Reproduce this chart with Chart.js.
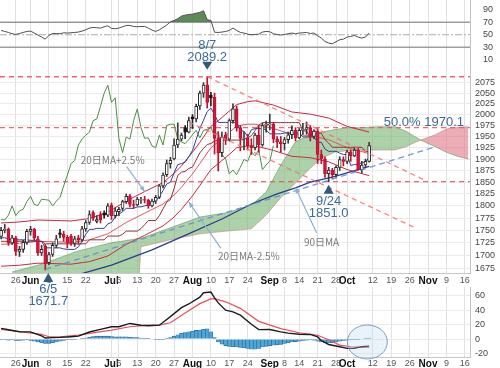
<!DOCTYPE html>
<html>
<head>
<meta charset="utf-8">
<script src="https://cdn.jsdelivr.net/npm/chart.js@4.4.1/dist/chart.umd.min.js"></script>
<style>
  body { margin: 0; background: #fff; }
  #wrap { position: relative; width: 500px; height: 368px; overflow: hidden; }
  #wrap canvas { position: absolute; left: 0; top: 0; }
</style>
</head>
<body>
<div id="wrap">
  <canvas id="rsiChart" width="500" height="368"></canvas>
  <canvas id="macdChart" width="500" height="368"></canvas>
  <canvas id="mainChart" width="500" height="368"></canvas>
</div>
<script>
// ===================================
// AXIS LABELS (x = trading-day index, 0 = May 19)
// ===================================
const xTickIdx  = [4, 8, 13, 18, 23, 30, 32, 37, 42, 47, 52, 57, 62, 67, 73, 77, 81, 86, 91, 94, 101, 106, 111, 116, 121, 126];
const xTickText = ['26', 'Jun', '8', '15', '22', 'Jul', '6', '13', '20', '27', 'Aug', '10', '17', '24', 'Sep', '8', '14', '21', '28', 'Oct', '12', '19', '26', 'Nov', '9', '16'];
const monthNames = ['Jun', 'Jul', 'Aug', 'Sep', 'Oct', 'Nov'];
const priceTicks = [1675, 1700, 1725, 1750, 1775, 1800, 1825, 1850, 1875, 1900, 1925, 1950, 1975, 2000, 2025, 2050, 2075];
const rsiTicks = [10, 30, 50, 70, 90];
const rsiLevels = [70, 50, 30];
const macdTicks = [-20, 0, 20, 40, 60];

// ===================================
// DAILY PRICES
// ===================================
const opens = [
  1738, 1750, 1752, 1725, 1735, 1708, 1712, 1726, 1748, 1752,
  1733, 1705, 1718, 1686, 1702, 1720, 1745, 1742, 1736, 1738,
  1724, 1735, 1731, 1753, 1766, 1786, 1768, 1782, 1785, 1781,
  1802, 1780, 1788, 1795, 1809, 1820, 1803, 1802, 1812, 1813,
  1812, 1800, 1810, 1818, 1842, 1866, 1890, 1900, 1931, 1944,
  1970, 1960, 1995, 1990, 2020, 2050, 2070, 2045, 2040, 1946,
  1914, 1954, 1944, 1986, 2013, 1970, 1946, 1947, 1929, 1925,
  1953, 1931, 1975, 1976, 1978, 1944, 1938, 1934, 1943, 1954,
  1964, 1947, 1964, 1966, 1970, 1950, 1962, 1910, 1900, 1868,
  1876, 1866, 1882, 1899, 1895, 1916, 1907, 1920, 1877, 1887,
  1895
];
const highs = [
  1756, 1762, 1755, 1740, 1738, 1718, 1730, 1752, 1758, 1754,
  1738, 1720, 1722, 1706, 1725, 1740, 1752, 1748, 1740, 1742,
  1738, 1740, 1758, 1770, 1790, 1790, 1780, 1788, 1790, 1805,
  1806, 1796, 1797, 1812, 1825, 1824, 1812, 1818, 1818, 1820,
  1814, 1814, 1822, 1845, 1870, 1898, 1904, 1945, 1981, 1958,
  1975, 1994, 2000, 2024, 2055, 2075, 2089.2, 2052, 2050, 1960,
  1960, 1960, 1990, 2025, 2020, 1975, 1960, 1955, 1945, 1958,
  1975, 1980, 1985, 2001, 1982, 1950, 1950, 1948, 1960, 1974,
  1970, 1968, 1980, 1983, 1975, 1965, 1968, 1920, 1905, 1882,
  1880, 1885, 1905, 1905, 1920, 1920, 1925, 1925, 1895, 1900,
  1937
];
const lows = [
  1733, 1745, 1720, 1722, 1700, 1698, 1706, 1722, 1740, 1730,
  1700, 1700, 1671.7, 1682, 1698, 1715, 1735, 1728, 1715, 1720,
  1718, 1722, 1728, 1748, 1762, 1770, 1765, 1765, 1775, 1778,
  1772, 1775, 1780, 1790, 1805, 1798, 1795, 1800, 1805, 1806,
  1795, 1798, 1805, 1815, 1838, 1862, 1880, 1898, 1925, 1940,
  1945, 1958, 1968, 1983, 2012, 2040, 2015, 2020, 1911, 1874,
  1905, 1932, 1940, 1980, 1962, 1918, 1920, 1920, 1910, 1920,
  1915, 1928, 1960, 1965, 1936, 1925, 1915, 1920, 1935, 1945,
  1940, 1945, 1955, 1955, 1940, 1945, 1890, 1890, 1860, 1851,
  1858, 1860, 1875, 1885, 1890, 1895, 1905, 1875, 1870, 1882,
  1893
];
const closes = [
  1750, 1752, 1725, 1735, 1708, 1712, 1726, 1748, 1752, 1735,
  1705, 1712, 1685, 1702, 1720, 1733, 1742, 1736, 1726, 1724,
  1733, 1731, 1753, 1766, 1782, 1775, 1772, 1771, 1781, 1800,
  1780, 1790, 1793, 1809, 1820, 1803, 1801, 1814, 1813, 1812,
  1800, 1810, 1818, 1842, 1865, 1890, 1897, 1931, 1944, 1953,
  1960, 1986, 1990, 2019, 2050, 2069, 2028, 2039, 1946, 1914,
  1949, 1944, 1986, 2013, 1970, 1946, 1947, 1929, 1925, 1953,
  1931, 1975, 1978, 1978, 1944, 1938, 1934, 1943, 1954, 1964,
  1947, 1964, 1966, 1970, 1950, 1962, 1910, 1900, 1868, 1876,
  1866, 1882, 1899, 1895, 1916, 1907, 1920, 1877, 1887, 1895,
  1930
];

// ichimoku conversion / base lines, one value per day
const tenkan = [
  1735, 1735, 1733, 1731, 1731, 1731, 1731, 1731, 1730, 1730,
  1728, 1728, 1715, 1715, 1715, 1715, 1715, 1713, 1712, 1712,
  1712, 1717, 1728, 1742, 1752, 1752, 1754, 1754, 1754, 1763,
  1766, 1777, 1783, 1788, 1795, 1795, 1795, 1798, 1798, 1800,
  1802, 1808, 1810, 1820, 1832, 1846, 1850, 1870, 1888, 1890,
  1893, 1905, 1919, 1943, 1968, 1987, 2007, 2015, 2000, 1982,
  1982, 1982, 1982, 1982, 1982, 1963, 1962, 1950, 1965, 1968,
  1968, 1968, 1965, 1956, 1956, 1956, 1956, 1958, 1958, 1958,
  1958, 1958, 1949, 1949, 1949, 1949, 1937, 1937, 1922, 1917,
  1917, 1917, 1913, 1910, 1910, 1886, 1888, 1888, 1892, 1893,
  1904
];
const kijun = [
  1728, 1728, 1728, 1728, 1728, 1728, 1728, 1728, 1728, 1728,
  1728, 1728, 1723, 1723, 1723, 1723, 1723, 1723, 1723, 1723,
  1723, 1723, 1723, 1723, 1731, 1731, 1731, 1731, 1731, 1738.5,
  1738.5, 1738.5, 1738.5, 1742, 1748.5, 1748.5, 1748.5, 1748.5, 1753.5, 1761.5,
  1770, 1770, 1770, 1780, 1794, 1808, 1813, 1836.5, 1864.5, 1871.5,
  1873, 1879.5, 1882.5, 1898, 1913.5, 1923.5, 1932, 1934.5, 1939.5, 1942,
  1942, 1942, 1942, 1942, 1942, 1942, 1943.5, 1947, 1952, 1963.5,
  1975.5, 1981.5, 1981.5, 1981.5, 1981.5, 1981.5, 1981.5, 1981.5, 1981.5, 1981.5,
  1981.5, 1981.5, 1963, 1962, 1949.5, 1965, 1957.5, 1957.5, 1942.5, 1935.5,
  1926, 1926, 1926, 1926, 1926, 1926, 1926, 1926, 1926, 1917,
  1917
];

// 20-day MA and its ±2.5% envelopes, read at sample days
const maIdx   = [0, 5, 10, 15, 19, 24, 29, 34, 39, 44, 47, 49, 52, 54, 57, 59, 62, 64, 67, 69, 74, 79, 84, 89, 94, 100];
const ma20    = [1722, 1724, 1728, 1727, 1726, 1731, 1743, 1766, 1785, 1804, 1823, 1839, 1868, 1890, 1925, 1938, 1959, 1974, 1978, 1978, 1968, 1955, 1952, 1943, 1925, 1912];
const envUp   = [1765, 1767, 1771, 1770, 1769, 1774, 1787, 1810, 1830, 1849, 1869, 1885, 1915, 1937, 1973, 1986, 2008, 2023, 2030, 2032, 2022, 2006, 2001, 1992, 1973, 1960];
const envDown = [1679, 1681, 1685, 1684, 1683, 1688, 1699, 1722, 1740, 1759, 1777, 1793, 1821, 1843, 1877, 1890, 1910, 1925, 1929, 1929, 1919, 1906, 1903, 1894, 1877, 1864];

// 90-day MA
const ma90Idx = [0, 10, 17, 30, 41, 50, 60, 68, 75, 80, 84, 90, 100];
const ma90    = [1630, 1645, 1655, 1681, 1711, 1740, 1773, 1804, 1825, 1838, 1850, 1861, 1884];

// cloud (leading spans), read at sample days, extends 26 days ahead
const cloudIdx = [3, 11, 21, 30, 37, 38, 46, 54, 62, 68, 72, 76, 80, 84, 87, 91, 94, 98, 102, 107, 110, 112, 114, 118, 121, 124, 127];
const spanA = [1668, 1683, 1709, 1725, 1733, 1734, 1755, 1777, 1787, 1802, 1829, 1887, 1938, 1954, 1960, 1966, 1970, 1970, 1972, 1972, 1962, 1952, 1942, 1927, 1915, 1906, 1900];
const spanB = [1600, 1600, 1600, 1600, 1600, 1717, 1731, 1743, 1749, 1753, 1781, 1817, 1848, 1880, 1902, 1916, 1918, 1920, 1920, 1920, 1927, 1935, 1942, 1954, 1967, 1971, 1972];

// reference levels and trend lines
const fibLevels = [2089.2, 1970.1, 1851.0];
const trendHigh = [[56, 2089.2], [116, 1851]];
const trendLow = [[51, 1983], [112, 1757]];
const trendSupport = [[12, 1673], [118, 1927]];

// pivot labels
const pivotIdx = [56, 89, 12];
const pivotVal = [2089.2, 1851.0, 1671.7];
const pivotDate = ['8/7', '9/24', '6/5'];

// ===================================
// RSI
// ===================================
const rsi = [
  56.9, 55.3, 53.7, 51.6, 50.5, 52, 53.7, 55.3, 55.9, 52.7,
  49.5, 46.3, 43, 49, 52, 52, 51.6, 53.2, 52.7, 53.2,
  53.7, 54.3, 55.9, 58, 60.7, 61.7, 61.2, 60.7, 62.8, 64.4,
  60.1, 59.6, 60.7, 62.8, 64.9, 64.9, 63.3, 62.8, 63.3, 63.3,
  60.7, 57.5, 55.3, 58, 61.7, 65.5, 70.8, 72.9, 75.6, 79.8,
  81.4, 82.5, 83, 84.6, 85.7, 88.4, 74, 72.9, 54, 53.7,
  54.3, 55.3, 56.9, 60.7, 56.9, 53.7, 52.7, 51, 50, 50.5,
  51, 54.3, 55.3, 54.8, 51.6, 50.5, 49.5, 50.5, 51.6, 52.7,
  51.6, 52.7, 53.2, 53.7, 52, 52.7, 48.4, 44.7, 39.3, 36.7,
  35.6, 38.8, 42, 43, 46.3, 47.3, 48.9, 46.3, 44.7, 46.3,
  52.7
];

// ===================================
// MACD
// ===================================
const macdLine = [[0, 14.7], [2, 12.8], [5, 10.2], [8, 10], [11, 4.5], [12, 1.5], [14, 2], [16, 2.3], [19, 3.2], [21, 4], [24, 9.8], [27, 13.4], [30, 17], [32, 17], [35, 21.6], [38, 19.2], [40, 18.5], [43, 19.2], [46, 31], [49, 43.5], [51, 48.5], [54, 58], [55, 64], [57, 65], [58, 57], [59, 50], [61, 40], [63, 37.7], [65, 33], [68, 20.5], [70, 13], [73, 13.3], [76, 10], [78, 8.2], [81, 6.6], [84, 6.4], [86, 3], [87, -2], [89, -7.5], [92, -10.6], [94, -12.9], [96, -12.6], [98, -10.4], [100, -9.7]];
const signalLine = [[0, 13.3], [5, 10.1], [11, 6.5], [13, 3.2], [16, 3.2], [21, 5.5], [24, 7.8], [30, 12.4], [35, 17], [40, 19.2], [43, 19.3], [46, 22.5], [50, 36], [54, 49], [57, 55.5], [58, 56], [61, 51.5], [65, 42.5], [70, 24.5], [76, 14.5], [81, 8.7], [86, 5.2], [89, -1], [92, -8.3], [95, -10.6], [98, -11.5], [100, -11.3]];
const macdHist = [
  -1, -1, -1.5, -1, -2, -2, -1.5, -1, -2, -3,
  -4, -5, -6, -6, -5, -4, -3, -2, -1, -0.5,
  -0.5, 0, 0.5, 1.5, 2.5, 3.5, 4, 4, 4, 4,
  3.5, 3, 3, 3, 3, 2.5, 2, 2, 1.5, 1.5,
  1, 0, -0.5, -1, -1, 0.5, 2, 4, 6, 8,
  9, 10, 11, 12, 12.5, 13.5, 14, 10, 2, -4,
  -7, -9, -10, -10.5, -11, -11.5, -12, -13, -14, -14,
  -13, -11, -10, -9, -8.5, -8, -7.5, -6, -5, -4,
  -3.5, -3, -2, -1.5, -1, -1.5, -3, -4, -5, -5.5,
  -5, -4, -3, -2, -1.5, -1, -0.5, -0.5, 0, 0.5,
  1.5
];

// ===================================
// HELPERS
// ===================================
const X_MIN = -0.3, X_MAX = 127.4;
Chart.defaults.font.family = "'Liberation Sans', Arial, sans-serif";
Chart.defaults.font.size = 9;

const pairs = arr => arr.map(p => ({ x: p[0], y: p[1] }));
const daily = arr => arr.map((v, i) => ({ x: i, y: v }));
const sampled = (idx, vals) => idx.map((x, k) => ({ x: x, y: vals[k] }));
const flat = v => [{ x: X_MIN, y: v }, { x: X_MAX, y: v }];

function candleKind(i) {
  if (closes[i] >= opens[i]) return 'up';
  if (i > 0 && closes[i] > closes[i - 1]) return 'black';
  return 'down';
}
const bodyFill = { up: '#ffffff', down: '#d4163c', black: '#151515' };
const bodyEdge = { up: '#2a2a2a', down: '#c2102f', black: '#151515' };
const wickCol  = { up: '#3a3a3a', down: '#b8142f', black: '#222222' };

function xAxis(axisHeight, pad) {
  const withLabels = axisHeight > 0;
  return {
    type: 'linear', min: X_MIN, max: X_MAX, offset: false,
    afterBuildTicks: s => { s.ticks = xTickIdx.map(v => ({ value: v })); },
    afterFit: s => { s.height = axisHeight; s.paddingLeft = 0; s.paddingRight = 0; },
    grid: { color: '#e1e1e1', drawTicks: false, offset: false },
    border: { display: withLabels, color: '#c8c8c8' },
    ticks: {
      display: withLabels, autoSkip: false, maxRotation: 0, minRotation: 0, padding: pad,
      callback: v => xTickText[xTickIdx.indexOf(v)],
      color: c => (c.tick && monthNames.includes(c.tick.label)) ? '#111' : '#555',
      font: c => (c.tick && monthNames.includes(c.tick.label)) ? { size: 10, weight: 'bold' } : { size: 9 }
    }
  };
}

function yAxis(tickValues, extra) {
  return Object.assign({
    position: 'right',
    afterBuildTicks: s => { s.ticks = tickValues.map(v => ({ value: v })); },
    afterFit: s => { s.width = 30; s.paddingTop = 0; s.paddingBottom = 0; },
    grid: { color: '#ebebeb', drawTicks: false },
    border: { color: '#c4c4c4' },
    ticks: { autoSkip: false, padding: 5, color: '#444', font: { size: 9 }, callback: v => String(v) }
  }, extra);
}

function baseOptions(padding, scales) {
  return {
    responsive: false, animation: false, events: [],
    layout: { padding: padding },
    plugins: { legend: { display: false }, tooltip: { enabled: false } },
    elements: { point: { radius: 0 }, line: { tension: 0 } },
    scales: scales
  };
}

function line(data, color, width, order, extra) {
  return Object.assign({ type: 'line', data: data, borderColor: color, borderWidth: width, pointRadius: 0, fill: false, order: order }, extra || {});
}

// ===================================
// ANNOTATIONS
// ===================================
function drawPivot(ctx, px, py, up, dateText, valText) {
  ctx.fillStyle = '#34587b';
  ctx.beginPath();
  if (up) { ctx.moveTo(px, py + 3); ctx.lineTo(px - 5, py + 12); ctx.lineTo(px + 5, py + 12); }
  else { ctx.moveTo(px, py - 7); ctx.lineTo(px - 5, py - 15); ctx.lineTo(px + 5, py - 15); }
  ctx.closePath();
  ctx.fill();
  ctx.fillStyle = '#3d6a96';
  ctx.font = '13px "Liberation Sans Narrow", "Liberation Sans", sans-serif';
  ctx.textAlign = 'center';
  ctx.textBaseline = 'alphabetic';
  if (up) { ctx.fillText(dateText, px, py + 23); ctx.fillText(valText, px, py + 35); }
  else { ctx.fillText(valText, px, py - 16); ctx.fillText(dateText, px, py - 28); }
}

function drawCallout(ctx, hx, hy, sx, sy, tx, ty, text) {
  ctx.strokeStyle = '#8db1d2';
  ctx.fillStyle = '#8db1d2';
  ctx.lineWidth = 1.2;
  ctx.beginPath(); ctx.moveTo(hx + sx, hy + sy); ctx.lineTo(hx, hy); ctx.stroke();
  const a = Math.atan2(-sy, -sx);
  ctx.beginPath();
  ctx.moveTo(hx, hy);
  ctx.lineTo(hx - 6 * Math.cos(a - 0.4), hy - 6 * Math.sin(a - 0.4));
  ctx.lineTo(hx - 6 * Math.cos(a + 0.4), hy - 6 * Math.sin(a + 0.4));
  ctx.closePath();
  ctx.fill();
  ctx.fillStyle = '#7b7b7b';
  ctx.font = '10px "Noto Sans CJK JP", sans-serif';
  ctx.textAlign = 'center';
  ctx.textBaseline = 'middle';
  ctx.fillText(text, hx + tx, hy + ty);
}

const mainNotes = {
  id: 'mainNotes',
  afterDatasetsDraw(chart) {
    const { ctx, scales: { x, y } } = chart;
    ctx.save();
    pivotIdx.forEach((d, k) => {
      drawPivot(ctx, x.getPixelForValue(d) + (k === 2 ? 3 : 0), y.getPixelForValue(pivotVal[k]), k > 0, pivotDate[k], pivotVal[k].toFixed(1));
    });
    ctx.fillStyle = '#3d6a96';
    ctx.font = '13px "Liberation Sans Narrow", "Liberation Sans", sans-serif';
    ctx.textAlign = 'right';
    ctx.textBaseline = 'alphabetic';
    ctx.fillText('50.0% ' + fibLevels[1].toFixed(1), 464, y.getPixelForValue(fibLevels[1]) - 2);

    drawCallout(ctx, x.getPixelForValue(39), y.getPixelForValue(1830), -18, -25, -32, -31, '20日MA+2.5%');
    drawCallout(ctx, x.getPixelForValue(51), y.getPixelForValue(1808), 32, 46, 60, 54, '20日MA-2.5%');
    drawCallout(ctx, x.getPixelForValue(80), y.getPixelForValue(1838), 21, 45, 26, 54, '90日MA');
    ctx.restore();
  }
};

const macdNote = {
  id: 'macdNote',
  afterDatasetsDraw(chart) {
    const { ctx, scales: { x, y } } = chart;
    ctx.save();
    ctx.beginPath();
    ctx.ellipse(x.getPixelForValue(99.5), y.getPixelForValue(-4), 20, 17, 0, 0, Math.PI * 2);
    ctx.fillStyle = 'rgba(185, 212, 240, 0.3)';
    ctx.fill();
    ctx.strokeStyle = '#7f9dbd';
    ctx.lineWidth = 1;
    ctx.stroke();
    ctx.restore();
  }
};

// ===================================
// RSI PANEL
// ===================================
new Chart(document.getElementById('rsiChart'), {
  type: 'line',
  data: {
    datasets: [
      line(daily(rsi), '#4f4f4f', 1, 1, { fill: { value: 70, above: 'rgba(72, 122, 66, 0.88)', below: 'rgba(0,0,0,0)' } }),
      ...rsiLevels.map(lv => line(flat(lv), lv === 50 ? '#ababab' : '#9d9d9d', lv === 50 ? 1 : 1.4, 2, { borderDash: lv === 50 ? [7, 2, 2, 2] : [] }))
    ]
  },
  options: baseOptions({ top: 0, bottom: 306, left: 0, right: 0 }, {
    x: xAxis(0, 0),
    y: yAxis(rsiTicks, { min: 6.4, max: 105.6, grid: { display: false } })
  })
});

// ===================================
// MACD PANEL
// ===================================
new Chart(document.getElementById('macdChart'), {
  type: 'line',
  data: {
    datasets: [
      { type: 'bar', data: daily(macdHist), backgroundColor: '#4ea6d8', borderColor: '#23648f', borderWidth: 0.6,
        barPercentage: 1, categoryPercentage: 1, order: 5 },
      line(pairs(signalLine), '#e8505e', 1.2, 2),
      line(pairs(macdLine), '#1c1c1c', 1.4, 1)
    ]
  },
  options: baseOptions({ top: 287, bottom: 0, left: 0, right: 0 }, {
    x: xAxis(11, 1),
    y: yAxis(macdTicks, { min: -24.8, max: 72 })
  }),
  plugins: [macdNote]
});

// ===================================
// MAIN PRICE PANEL
// ===================================
new Chart(document.getElementById('mainChart'), {
  type: 'line',
  data: {
    datasets: [
      line(sampled(cloudIdx, spanA), 'rgba(95, 150, 95, 0.75)', 0.8, 30,
        { fill: { target: '+1', above: 'rgba(122, 182, 118, 0.62)', below: 'rgba(226, 122, 138, 0.62)' } }),
      line(sampled(cloudIdx, spanB), 'rgba(175, 110, 110, 0.6)', 0.8, 29),
      ...fibLevels.map(v => line(flat(v), 'rgba(236, 86, 98, 0.9)', 1.3, 25, { borderDash: [5, 4] })),
      line(sampled(ma90Idx, ma90), '#2a3e8e', 1.3, 20),
      line(sampled(maIdx, ma20), '#df5468', 1, 19),
      line(sampled(maIdx, envUp), '#c62a40', 1, 19),
      line(sampled(maIdx, envDown), '#c62a40', 1, 19),
      line(daily(kijun), '#8a3434', 1, 18),
      line(daily(tenkan), '#2d3f96', 1, 17),
      line(closes.slice(26).map((v, i) => ({ x: i, y: v })), '#4f8d43', 1, 16),
      { type: 'bar', data: closes.map((c, i) => ({ x: i, y: [lows[i], highs[i]] })), barThickness: 1, grouped: false,
        backgroundColor: c => wickCol[candleKind(c.dataIndex)], order: 10 },
      { type: 'bar', data: closes.map((c, i) => ({ x: i, y: [opens[i], c] })), barThickness: 3, grouped: false,
        backgroundColor: c => bodyFill[candleKind(c.dataIndex)], borderColor: c => bodyEdge[candleKind(c.dataIndex)],
        borderWidth: 1, borderSkipped: false, order: 9 },
      line(pairs(trendHigh), 'rgba(242, 112, 112, 0.85)', 1.3, 5, { borderDash: [5, 4] }),
      line(pairs(trendLow), 'rgba(242, 112, 112, 0.85)', 1.3, 5, { borderDash: [5, 4] }),
      line(pairs(trendSupport), 'rgba(98, 144, 206, 0.9)', 1.3, 5, { borderDash: [6, 4] })
    ]
  },
  options: baseOptions({ top: 62, bottom: 81, left: 0, right: 0 }, {
    x: xAxis(14, 2),
    y: yAxis(priceTicks, { type: 'logarithmic', min: 1666, max: 2125 })
  }),
  plugins: [mainNotes]
});
</script>
</body>
</html>
